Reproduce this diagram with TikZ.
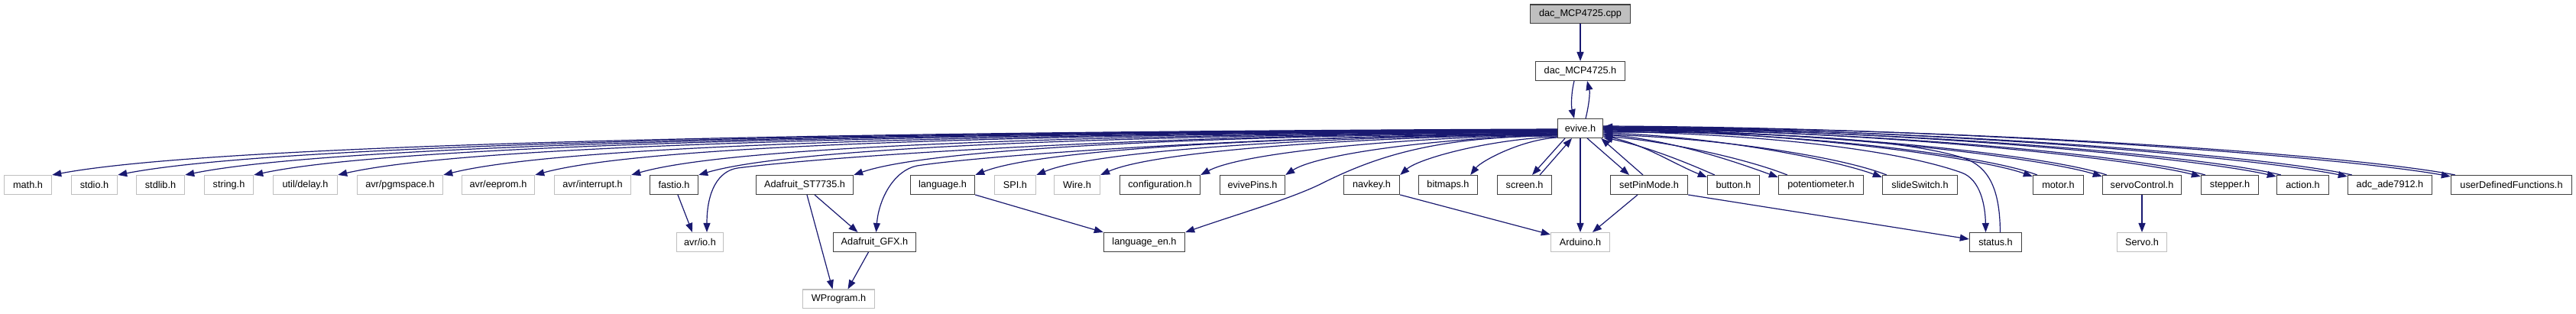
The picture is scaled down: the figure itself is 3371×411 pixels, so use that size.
\documentclass[tikz,border=0pt]{standalone}
\usepackage{fontspec}
\setmainfont{Liberation Sans}
\usetikzlibrary{arrows.meta,calc}
\definecolor{ec}{HTML}{191970}
\definecolor{gb}{HTML}{BFBFBF}
\definecolor{bb}{HTML}{404040}
\begin{document}
\begin{tikzpicture}[x=1pt,y=-1pt,
  box/.style={draw=bb,line width=1.4pt,fill=white,inner sep=0pt,minimum height=24.6pt,
    font=\fontsize{12.7pt}{15pt}\selectfont,text=black},
  ext/.style={box,draw=gb},
  edge/.style={draw=ec,line width=1.2pt,-{Triangle[length=12pt,width=9pt]}}]
\useasboundingbox[fill=white] (0,0) rectangle (3371,411);
% rank 0-2
\node[box,fill=gb,minimum width=131pt] (cpp) at (2068,18.5) {dac\_MCP4725.cpp};
\node[box,minimum width=117pt] (dach) at (2068,93) {dac\_MCP4725.h};
\node[box,minimum width=59pt] (evive) at (2068,168) {evive.h};
% rank 3
\node[ext,minimum width=62pt] (math) at (36.5,242) {math.h};
\node[ext,minimum width=60pt] (stdio) at (123.5,242) {stdio.h};
\node[ext,minimum width=63pt] (stdlib) at (210,242) {stdlib.h};
\node[ext,minimum width=64pt] (string) at (299.5,242) {string.h};
\node[ext,minimum width=84pt] (delay) at (399.5,242) {util/delay.h};
\node[ext,minimum width=112pt] (pgm) at (523.5,242) {avr/pgmspace.h};
\node[ext,minimum width=95pt] (eeprom) at (652,242) {avr/eeprom.h};
\node[ext,minimum width=100pt] (intr) at (775.5,242) {avr/interrupt.h};
\node[box,minimum width=63pt] (fastio) at (882,242) {fastio.h};
\node[box,minimum width=127pt] (st) at (1053,242) {Adafruit\_ST7735.h};
\node[box,minimum width=84pt] (lang) at (1233.5,242) {language.h};
\node[ext,minimum width=54pt] (spi) at (1328.5,242) {SPI.h};
\node[ext,minimum width=60pt] (wire) at (1409.5,242) {Wire.h};
\node[box,minimum width=105pt] (conf) at (1518,242) {configuration.h};
\node[box,minimum width=85pt] (pins) at (1639,242) {evivePins.h};
\node[box,minimum width=73pt] (navkey) at (1795,242) {navkey.h};
\node[box,minimum width=77pt] (bitmaps) at (1895,242) {bitmaps.h};
\node[box,minimum width=71pt] (screen) at (1995,242) {screen.h};
\node[box,minimum width=101pt] (spm) at (2158,242) {setPinMode.h};
\node[box,minimum width=68pt] (button) at (2268.5,242) {button.h};
\node[box,minimum width=111pt] (pot) at (2383,242) {potentiometer.h};
\node[box,minimum width=98pt] (slide) at (2512.5,242) {slideSwitch.h};
\node[box,minimum width=66pt] (motor) at (2693.5,242) {motor.h};
\node[box,minimum width=103pt] (servoc) at (2803,242) {servoControl.h};
\node[box,minimum width=75pt] (stepper) at (2918,242) {stepper.h};
\node[box,minimum width=68pt] (action) at (3013.5,242) {action.h};
\node[box,minimum width=110pt] (adc) at (3127.5,242) {adc\_ade7912.h};
\node[box,minimum width=158pt] (udf) at (3286.5,242) {userDefinedFunctions.h};
% rank 4
\node[ext,minimum width=61pt] (avrio) at (916,317) {avr/io.h};
\node[box,minimum width=108pt] (gfx) at (1144.5,317) {Adafruit\_GFX.h};
\node[box,minimum width=106pt] (langen) at (1497.5,317) {language\_en.h};
\node[ext,minimum width=77pt] (arduino) at (2068,317) {Arduino.h};
\node[box,minimum width=68pt] (status) at (2611.5,317) {status.h};
\node[ext,minimum width=65pt] (servo) at (2803,317) {Servo.h};
% rank 5
\node[ext,minimum width=94pt] (wprog) at (1097.5,391.5) {WProgram.h};
% ---- edges ----
\draw[edge] (cpp) -- (dach);
\draw[edge] ($(dach.south)+(-8,0)$) .. controls +(-4,16) and +(-4,-16) .. ($(evive.north)+(-8,0)$);
\draw[edge] ($(evive.north)+(7,0)$) .. controls +(4,-16) and +(4,16) .. ($(dach.south)+(9,0)$);
% left side
\draw[edge] ($(evive.west)+(0,1)$) .. controls +(-827,3) and +(236,-44) .. (math.north east);
\draw[edge] ($(evive.west)+(0,1.5)$) .. controls +(-791,3) and +(226,-44) .. (stdio.north east);
\draw[edge] ($(evive.west)+(0,2)$) .. controls +(-754,3) and +(216,-44) .. (stdlib.north east);
\draw[edge] ($(evive.west)+(0,2.5)$) .. controls +(-717,3) and +(205,-44) .. (string.north east);
\draw[edge] ($(evive.west)+(0,3)$) .. controls +(-670,3) and +(192,-44) .. (delay.north east);
\draw[edge] ($(evive.west)+(0,3.5)$) .. controls +(-612,3) and +(175,-44) .. (pgm.north east);
\draw[edge] ($(evive.west)+(0,4)$) .. controls +(-562,3) and +(161,-44) .. (eeprom.north east);
\draw[edge] ($(evive.west)+(0,4.5)$) .. controls +(-509,3) and +(145,-42) .. (intr.north east);
\draw[edge] ($(evive.west)+(0,5)$) .. controls +(-472,3) and +(135,-40) .. (fastio.north east);
\draw[edge] ($(evive.west)+(0,5)$) .. controls (1500,176) and (1080,205) .. (965,220) .. controls (940,224) and (925,250) .. ($(avrio.north)+(9,0)$);
\draw[edge] ($(evive.west)+(0,6)$) .. controls +(-387,3) and +(110,-38) .. (st.north east);
\draw[edge] ($(evive.west)+(0,6)$) .. controls (1650,178) and (1290,203) .. (1200,217) .. controls (1170,223) and (1150,260) .. ($(gfx.north)+(2,0)$);
\draw[edge] ($(evive.west)+(0,7)$) .. controls +(-320,3) and +(91,-36) .. (lang.north east);
\draw[edge] ($(evive.west)+(0,7.5)$) .. controls +(-286,3) and +(82,-34) .. (spi.north east);
\draw[edge] ($(evive.west)+(0,8)$) .. controls +(-251,3) and +(72,-32) .. (wire.north east);
\draw[edge] ($(evive.west)+(0,8.5)$) .. controls +(-196,3) and +(56,-30) .. (conf.north east);
\draw[edge] ($(evive.west)+(0,9)$) .. controls +(-150,3) and +(43,-28) .. (pins.north east);
\draw[edge] ($(evive.west)+(0,10)$) .. controls (1880,178) and (1800,205) .. (1730,240) .. controls (1690,260) and (1620,280) .. (langen.north east);
\draw[edge] ($(evive.west)+(0,11)$) .. controls +(-87,3) and +(25,-22) .. (navkey.north east);
\draw[edge] ($(evive.west)+(0,12)$) .. controls +(-48,3) and +(14,-18) .. ($(bitmaps.north east)+(-10,0)$);
% below evive
\draw[edge] ($(evive.south)+(-20,0)$) -- ($(screen.north)+(10,0)$);
\draw[edge] ($(screen.north)+(20,0)$) -- ($(evive.south)+(-11,0)$);
\draw[edge] (evive) -- (arduino);
\draw[edge] ($(evive.south)+(9,0)$) -- ($(spm.north)+(-26,0)$);
\draw[edge] ($(spm.north)+(-8,0)$) -- ($(evive.south east)+(-3,0)$);
% right side
\draw[edge] ($(evive.east)+(0,10)$) .. controls +(50,8) and +(-45,-18) .. ($(button.north west)+(0,3)$);
\draw[edge] ($(button.north west)+(10,0)$) .. controls +(-45,-20) and +(50,10) .. ($(evive.east)+(0,12)$);
\draw[edge] ($(evive.east)+(0,8)$) .. controls +(90,6) and +(-50,-18) .. ($(pot.north west)+(0,3)$);
\draw[edge] ($(pot.north west)+(12,0)$) .. controls +(-50,-20) and +(90,8) .. ($(evive.east)+(0,10)$);
\draw[edge] ($(evive.east)+(0,6)$) .. controls +(150,4) and +(-60,-22) .. ($(slide.north west)+(0,3)$);
\draw[edge] ($(slide.north west)+(6,0)$) .. controls +(-60,-24) and +(150,5) .. ($(evive.east)+(0,8)$);
\draw[edge] ($(evive.east)+(0,4)$) .. controls (2300,175) and (2480,195) .. (2567,226) .. controls (2592,235) and (2598,270) .. ($(status.north)+(-13,0)$);
\draw[edge] ($(status.north)+(6,0)$) .. controls (2617,255) and (2607,218) .. (2567,206) .. controls (2467,176) and (2250,173) .. ($(evive.east)+(0,5)$);
\draw[edge] ($(evive.east)+(0,2)$) .. controls +(253,2) and +(-67,-24) .. ($(motor.north west)+(0,2)$);
\draw[edge] ($(motor.north west)+(6,0)$) .. controls +(-67,-26) and +(253,2) .. ($(evive.east)+(0,3)$);
\draw[edge] ($(evive.east)+(0,1)$) .. controls +(294,2) and +(-78,-24) .. ($(servoc.north west)+(0,2)$);
\draw[edge] ($(servoc.north west)+(6,0)$) .. controls +(-78,-26) and +(294,2) .. ($(evive.east)+(0,2)$);
\draw[edge] ($(evive.east)+(0,0)$) .. controls +(352,2) and +(-94,-24) .. ($(stepper.north west)+(0,2)$);
\draw[edge] ($(stepper.north west)+(6,0)$) .. controls +(-94,-26) and +(352,2) .. ($(evive.east)+(0,1)$);
\draw[edge] ($(evive.east)+(0,-1)$) .. controls +(396,2) and +(-106,-24) .. ($(action.north west)+(0,2)$);
\draw[edge] ($(action.north west)+(6,0)$) .. controls +(-106,-26) and +(396,2) .. ($(evive.east)+(0,0)$);
\draw[edge] ($(evive.east)+(0,-2)$) .. controls +(438,2) and +(-117,-24) .. ($(adc.north west)+(0,2)$);
\draw[edge] ($(adc.north west)+(6,0)$) .. controls +(-117,-26) and +(438,2) .. ($(evive.east)+(0,-1)$);
\draw[edge] ($(evive.east)+(0,-3)$) .. controls +(499,2) and +(-133,-24) .. ($(udf.north west)+(0,2)$);
\draw[edge] ($(udf.north west)+(6,0)$) .. controls +(-133,-26) and +(499,2) .. ($(evive.east)+(0,-2)$);
% lower edges
\draw[edge] ($(fastio.south)+(5,0)$) -- ($(avrio.north)+(-10,0)$);
\draw[edge] ($(st.south)+(3,0)$) -- ($(wprog.north)+(-8,0)$);
\draw[edge] ($(st.south)+(13,0)$) -- ($(gfx.north)+(-22,0)$);
\draw[edge] ($(gfx.south)+(-8,0)$) -- ($(wprog.north)+(12,0)$);
\draw[edge] (lang.south east) -- (langen.north west);
\draw[edge] (navkey.south east) -- ($(arduino.north west)+(0,3)$);
\draw[edge] ($(spm.south)+(-15,0)$) -- ($(arduino.north)+(16,0)$);
\draw[edge] (spm.south east) -- ($(status.west)+(0,-4)$);
\draw[edge] (servoc) -- (servo);
\end{tikzpicture}
\end{document}
